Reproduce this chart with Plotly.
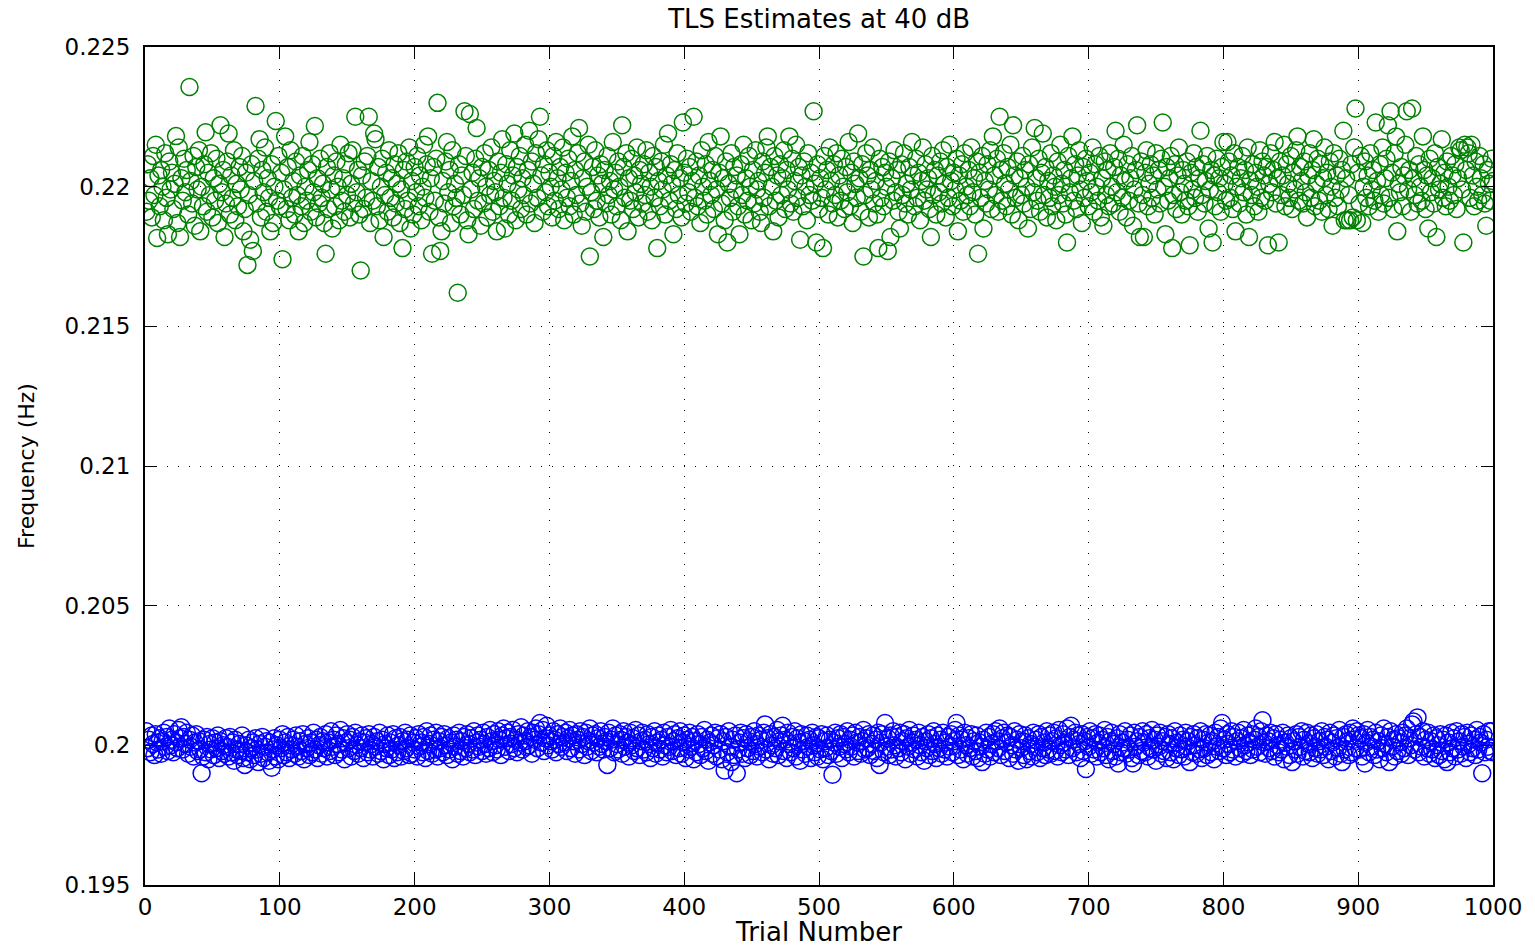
import plotly.graph_objects as go

# Trial numbers 1..1000
trial_number = list(range(1, 1001))

# Green series: TLS frequency estimates (units of 1e-5 Hz)
green_freq_1e5 = [
21910, 22080, 21950, 22030, 21890, 22110, 21970, 22150, 21816, 22040,
21930, 22060, 22000, 21880, 22120, 21960, 21830, 22090, 21990, 22050,
21920, 22010, 22181, 21870, 22140, 21820, 22030, 21950, 22100, 21980,
22060, 21900, 22357, 22020, 21940, 22110, 21860, 22070, 21990, 22130,
21840, 22000, 21930, 22080, 22195, 21910, 22050, 21970, 22120, 21890,
22030, 21950, 22100, 21870, 22010, 22220, 21980, 22060, 21820, 21940,
22090, 22190, 21900, 22040, 21960, 22130, 21880, 22010, 21930, 22070,
21990, 22110, 21840, 21920, 22050, 21720, 21970, 21810, 22080, 21770,
22020, 22289, 21940, 22100, 22170, 21890, 22060, 21980, 22140, 21910,
22030, 21960, 21840, 22080, 21870, 22000, 22235, 21950, 22110, 21930,
22050, 21740, 21990, 22180, 21920, 22070, 21880, 22130, 21960, 22020,
21900, 22090, 21970, 21840, 22040, 21930, 22110, 21870, 22000, 21950,
22060, 22160, 21910, 22080, 21980, 22217, 21890, 22030, 21940, 22100,
21960, 22010, 21870, 21760, 22070, 21920, 22120, 21990, 21850, 22040,
21930, 22090, 22000, 21880, 22150, 21950, 22030, 21910, 22080, 21970,
22120, 21890, 22010, 22130, 21940, 22250, 21980, 22060, 21900, 21700,
22040, 21920, 22090, 21960, 22110, 22250, 21870, 22020, 21950, 22190,
22170, 21930, 22070, 21880, 22000, 22100, 21820, 21970, 22050, 21910,
22130, 21960, 22030, 21890, 22080, 21940, 22010, 22120, 21870, 21990,
21780, 22060, 21920, 22090, 21950, 22140, 21850, 22020, 21900, 22070,
21980, 22110, 21930, 22040, 21880, 22000, 22150, 21960, 22080, 22180,
21910, 22030, 21760, 22070, 21950, 22100, 22300, 21890, 21770, 21840,
22020, 21940, 22090, 22160, 21980, 22060, 21870, 22130, 21930, 22010,
21960, 21620, 22080, 21900, 22040, 21970, 22270, 22110, 21880, 21830,
22260, 21990, 22050, 21920, 22100, 22210, 21950, 22030, 21860, 22070,
21940, 22120, 22000, 21890, 22060, 21970, 22140, 21910, 22020, 21980,
21840, 22090, 21930, 22050, 22170, 21960, 21850, 22080, 22010, 21900,
22130, 21950, 22040, 22190, 21880, 22070, 21990, 22110, 21920, 22030,
21970, 22150, 21900, 22060, 22200, 21940, 22090, 22010, 21870, 22120,
21960, 22170, 22250, 22040, 21910, 22080, 21980, 22130, 21930, 22050,
22000, 21890, 22110, 21950, 22160, 22030, 21920, 22070, 21990, 22140,
21880, 22050, 21960, 22100, 21930, 22020, 22180, 21900, 22060, 21970,
22120, 22210, 21940, 21860, 22030, 22090, 21910, 22000, 22150, 21750,
21980, 22070, 21920, 22130, 21950, 22040, 21890, 22080, 22010, 21820,
22060, 21940, 22110, 21970, 22020, 21900, 22160, 21990, 22050, 21930,
22090, 22000, 21880, 22220, 22070, 21960, 22120, 21840, 22030, 21950,
22100, 21920, 22040, 21980, 22140, 21890, 22060, 22010, 21940, 22080,
21970, 22130, 21910, 22050, 22000, 21880, 22110, 21960, 22070, 21780,
22020, 21930, 22090, 21990, 22150, 21900, 22040, 22190, 21950, 22080,
22010, 21830, 22060, 21920, 22120, 21970, 22030, 21890, 22230, 22050,
21940, 22100, 21980, 22070, 21910, 22020, 22250, 21960, 22090, 21930,
22040, 21870, 22130, 22000, 21950, 22080, 21900, 22160, 22020, 21970,
22060, 21920, 22110, 21990, 21830, 22050, 22180, 21940, 22030, 21880,
22090, 21800, 22010, 21960, 22120, 21910, 22070, 21990, 22040, 21930,
21830, 22080, 21970, 22150, 21900, 22030, 21950, 22110, 22000, 21880,
22060, 21940, 22130, 21990, 22020, 21910, 21870, 22090, 21960, 22050,
22140, 22180, 21930, 22070, 22000, 21840, 22110, 21950, 22040, 21890,
22080, 21970, 22030, 22130, 21920, 22060, 21990, 22180, 21940, 22100,
21910, 22020, 22150, 21960, 22070, 21810, 22040, 21930, 22090, 22000,
21880, 22120, 21970, 22050, 21950, 22270, 22010, 21800, 22080, 21920,
22030, 21960, 21780, 22110, 21990, 22060, 21900, 22140, 22020, 21940,
22080, 21970, 22120, 21890, 22040, 21950, 22100, 22000, 21920, 22070,
21980, 22160, 21930, 22050, 21870, 22090, 22010, 21960, 22190, 22030,
21910, 22080, 21750, 21970, 22120, 22040, 21890, 22060, 21990, 22140,
21940, 22020, 21900, 21780, 22100, 21960, 22070, 21930, 22050, 22000,
21770, 22090, 21820, 22030, 21950, 22130, 21980, 22060, 21910, 21850,
22080, 21970, 22120, 21940, 22010, 21900, 22070, 21990, 22160, 22040,
21930, 22100, 21960, 22050, 21880, 22020, 22140, 21950, 22080, 21990,
22030, 21920, 21820, 22110, 21970, 22060, 21900, 22040, 21980, 22090,
21940, 22130, 22010, 21890, 22070, 21960, 22150, 22020, 21930, 22050,
21990, 22100, 21840, 22040, 21950, 22080, 21910, 22120, 22000, 21970,
22060, 21930, 22140, 21980, 22030, 21900, 22090, 21760, 22050, 21960,
22110, 21850, 22020, 21940, 22080, 21990, 22130, 21920, 22180, 22040,
21970, 22100, 21910, 22250, 22060, 21950, 22120, 22010, 21930, 22070,
21990, 22150, 21900, 22220, 22040, 21960, 22090, 21880, 22030, 21970,
22110, 21940, 22060, 22000, 21850, 22080, 21920, 22140, 21980, 22210,
22030, 21950, 22100, 21910, 22050, 22190, 21970, 22070, 21890, 22020,
21960, 22120, 21930, 22040, 22000, 21880, 22090, 21970, 22150, 22010,
21940, 22060, 21900, 21800, 22110, 21980, 22030, 22180, 21950, 22080,
21920, 22040, 22130, 21990, 21870, 22070, 21960, 22100, 22020, 21930,
22050, 21980, 22140, 21910, 22080, 22000, 21950, 22110, 21890, 22030,
21860, 22090, 21970, 22060, 21930, 22120, 22000, 21940, 22070, 22200,
21980, 22100, 21910, 22040, 21960, 22150, 22020, 21890, 22080, 21950,
22030, 22110, 21860, 21990, 22060, 22220, 21940, 21820, 22090, 21970,
21820, 22050, 22130, 21930, 22010, 22080, 21960, 22040, 21900, 22120,
21990, 22060, 21940, 22100, 22230, 22000, 21830, 22070, 21950, 22030,
22110, 21780, 21970, 22080, 21920, 22040, 22140, 21980, 21900, 22060,
22010, 21950, 22090, 21930, 21790, 22050, 21990, 22120, 21960, 22070,
21910, 22030, 22200, 21970, 22080, 21940, 22020, 22110, 21850, 21990,
22060, 21800, 22040, 21930, 22100, 21980, 22030, 21910, 22070, 22160,
22010, 21950, 22160, 22090, 21960, 22040, 21920, 22120, 21840, 22000,
22070, 21940, 22030, 22110, 21980, 22060, 21900, 22140, 21820, 22020,
21970, 22080, 21930, 22050, 22000, 21910, 22130, 21960, 22090, 22040,
21950, 22070, 21790, 22010, 22120, 21980, 22060, 22160, 21940, 22030,
21800, 22090, 21970, 22040, 22150, 21930, 22080, 22010, 21960, 22110,
21920, 22050, 21990, 22130, 22180, 21950, 22070, 22020, 21940, 22090,
21980, 21890, 22040, 22120, 21960, 22060, 22170, 21930, 22010, 22100,
21950, 22080, 21910, 22030, 22140, 21970, 22050, 21920, 22090, 22000,
21860, 22120, 21960, 22040, 21930, 22100, 21990, 22060, 22200, 21880,
22030, 21880, 21970, 21880, 22080, 21890, 22140, 22280, 21880, 22050,
21940, 22110, 21870, 22000, 22090, 21960, 22040, 21930, 22120, 21990,
22060, 21950, 22230, 22020, 21910, 22080, 21970, 22140, 21940, 22030,
22100, 22220, 21960, 22270, 22050, 21920, 22120, 22180, 21840, 22010,
21980, 22070, 21930, 22040, 22150, 22270, 21990, 22060, 21910, 22280,
22030, 21970, 22110, 21940, 22080, 22000, 21950, 22180, 22060, 21920,
22040, 21850, 22100, 21980, 22030, 21940, 22120, 21820, 22070, 21990,
22010, 22170, 21960, 22050, 21930, 22090, 22000, 21950, 22110, 22040,
21970, 22080, 21920, 22030, 22140, 22130, 21990, 21800, 22150, 22060,
22140, 22120, 21960, 22150, 22040, 21930, 22090, 22000, 21950, 22110,
22030, 21970, 22080, 21940, 21860, 22060, 22010, 21950, 22100, 22020,
]

# Blue series: frequency estimates (units of 1e-5 Hz)
blue_freq_1e5 = [
20050, 19990, 20020, 19975, 20035, 20005, 19965, 20040, 20010, 19985,
20025, 19970, 20015, 20045, 19995, 20030, 19980, 20060, 20000, 20020,
19975, 20040, 20010, 19990, 20055, 20025, 20065, 19985, 20030, 20005,
20045, 19970, 20020, 19995, 20035, 19960, 20010, 20040, 19980, 20015,
19985, 19900, 19960, 20020, 19975, 20030, 19950, 20005, 19985, 20025,
19965, 20010, 19990, 20035, 19955, 20015, 19980, 20000, 19970, 20025,
19995, 19960, 20030, 19975, 20010, 19945, 20020, 19985, 19965, 20005,
19980, 20035, 19955, 19930, 20000, 19975, 20020, 19950, 19990, 20010,
19965, 20025, 19985, 19940, 20005, 19970, 20030, 19955, 19995, 20015,
19975, 19945, 20010, 19920, 19985, 20025, 19960, 20000, 19950, 20020,
19990, 20040, 19965, 20010, 19975, 20030, 19955, 20000, 19985, 20020,
19970, 20035, 19995, 19960, 20015, 19980, 20040, 19950, 20005, 19990,
20025, 19965, 20010, 19975, 20045, 19985, 20020, 19955, 20000, 20030,
19970, 20015, 19990, 20040, 19960, 20010, 19980, 20050, 19995, 20020,
19965, 20035, 20005, 19975, 20055, 19985, 20025, 19950, 20010, 20040,
19990, 20020, 19960, 20030, 19980, 20045, 20000, 19970, 20015, 19990,
20035, 19955, 20010, 20025, 19975, 20040, 19985, 20005, 19960, 20030,
19995, 20015, 19970, 20045, 19980, 20020, 19950, 20005, 19990, 20035,
19965, 20010, 19985, 20040, 19955, 20025, 19975, 20000, 20030, 19960,
20015, 19980, 20045, 19990, 20020, 19965, 20035, 19970, 20010, 19985,
20025, 19960, 20040, 19995, 20010, 19975, 20030, 19955, 20050, 19980,
20005, 20035, 19970, 20020, 19985, 20045, 19960, 20015, 19990, 20030,
19975, 20040, 20000, 19965, 20025, 19985, 20010, 19950, 20035, 19995,
20020, 19970, 20045, 19980, 20015, 19960, 20030, 19990, 20040, 20005,
19975, 20025, 19985, 20050, 19965, 20010, 20035, 19995, 20020, 19980,
20045, 20005, 19970, 20030, 19990, 20055, 20015, 19975, 20040, 20000,
19985, 20050, 20020, 19965, 20035, 20060, 19995, 20025, 20045, 19980,
20030, 20005, 20055, 19990, 20020, 19975, 20040, 20010, 20065, 19985,
20035, 20015, 19995, 20050, 20000, 20030, 19970, 20045, 20020, 20060,
19990, 20040, 20080, 20010, 20055, 19980, 20025, 20070, 20000, 20035,
20015, 19985, 20050, 20020, 19975, 20040, 20005, 20060, 19995, 20030,
20010, 20045, 19980, 20025, 20055, 19990, 20035, 20015, 19970, 20040,
20020, 19985, 20050, 20005, 20030, 19965, 20045, 19995, 20015, 20060,
19980, 20035, 20010, 20040, 19975, 20025, 19995, 20050, 20005, 19985,
20030, 20015, 19930, 20045, 19990, 20020, 20060, 19975, 20035, 20005,
19985, 20040, 20020, 19970, 20050, 19995, 20030, 20010, 19960, 20045,
20000, 20025, 19980, 20055, 19990, 20035, 19965, 20015, 20045, 19985,
20020, 19975, 20040, 20005, 19955, 20030, 19990, 20050, 19970, 20010,
20035, 19985, 20020, 19960, 20045, 20000, 19975, 20030, 19995, 20055,
19980, 20015, 20040, 19965, 20025, 19990, 20050, 19970, 20010, 20035,
19955, 20020, 19985, 20045, 19995, 20030, 19950, 20015, 19975, 20040,
20005, 19965, 20030, 19990, 20055, 19980, 20020, 19945, 20010, 20035,
19970, 20000, 20045, 19960, 20025, 19985, 20040, 19950, 20015, 19910,
20030, 19975, 20050, 19995, 19940, 20020, 19965, 20035, 19900, 19985,
20010, 20045, 19970, 20025, 19955, 20040, 19990, 20015, 19965, 20030,
19980, 20050, 20005, 19960, 20035, 19995, 20020, 19975, 20045, 20075,
19985, 20025, 19950, 20040, 20000, 19970, 20030, 19990, 20055, 19965,
20015, 20035, 20070, 19980, 20020, 19955, 20045, 20005, 19975, 20030,
19990, 20050, 19960, 20025, 20010, 19945, 20040, 19985, 20015, 19970,
20035, 19995, 20020, 19955, 20045, 20000, 19975, 20030, 19960, 20025,
19985, 20040, 19950, 20015, 19990, 20035, 19965, 20020, 19980, 19895,
20010, 20045, 19970, 20025, 19995, 20040, 19955, 20030, 20005, 19985,
20050, 19975, 20020, 19995, 20035, 19960, 20045, 20010, 19980, 20030,
19970, 20015, 20055, 19985, 20025, 19990, 20040, 19965, 20005, 20035,
19980, 20020, 19955, 20045, 19930, 20010, 20040, 19975, 20080, 19995,
20025, 19965, 20035, 19985, 20050, 20000, 19960, 20030, 19990, 20045,
19975, 20015, 20040, 19950, 20025, 19995, 20055, 19970, 20010, 20035,
19985, 20020, 19960, 20045, 20000, 19975, 20030, 19945, 20015, 19990,
20040, 19965, 20025, 19980, 20050, 20005, 19955, 20035, 19990, 20020,
19970, 20045, 19985, 20010, 19960, 20030, 19995, 20040, 19975, 20015,
20055, 20080, 19965, 20035, 19985, 20020, 19950, 20045, 20000, 19970,
20025, 19990, 20040, 19960, 20015, 19980, 20035, 19955, 20010, 19995,
19940, 20020, 19970, 20045, 19985, 20030, 19960, 20005, 20040, 19975,
20050, 20015, 19990, 20060, 19965, 20025, 20045, 19980, 20010, 20035,
19955, 20030, 20000, 19970, 20050, 19985, 20020, 19945, 20040, 19990,
20015, 19965, 20035, 19950, 20025, 19980, 20005, 19960, 20045, 19995,
20020, 19975, 20040, 19955, 20030, 19990, 20010, 19965, 20050, 19985,
20035, 19970, 20015, 20045, 19980, 20025, 19960, 20055, 20000, 19975,
20040, 20010, 19985, 20060, 19965, 20030, 20070, 19990, 20020, 20045,
19975, 20035, 20005, 19955, 20040, 19980, 20015, 19915, 20030, 19995,
20050, 19970, 20025, 19985, 20040, 19960, 20010, 20035, 19975, 20020,
19990, 20055, 19965, 20030, 19950, 20015, 20045, 19980, 20005, 19960,
20025, 19935, 20040, 19975, 20010, 19990, 20050, 19970, 20020, 19985,
20035, 19955, 19935, 20045, 19995, 20015, 19965, 20030, 19980, 20050,
20010, 19975, 20040, 19960, 20025, 19990, 20055, 19985, 20020, 19945,
20035, 19995, 20045, 19970, 20015, 19980, 20030, 19955, 20040, 20005,
19975, 20025, 19950, 20050, 19990, 20010, 19965, 20035, 19985, 20020,
19960, 20045, 19995, 20015, 19940, 20030, 19975, 20040, 20000, 19970,
20025, 19985, 20050, 19955, 20020, 19990, 20040, 19965, 20010, 20035,
19975, 20015, 19950, 20045, 19995, 20030, 19980, 20060, 20080, 19990,
20020, 19965, 20040, 20005, 19975, 20050, 19985, 20030, 19960, 20015,
20045, 19990, 20025, 19970, 20055, 20000, 19980, 20035, 20010, 19965,
20040, 19985, 20020, 20060, 19995, 20030, 19975, 20050, 20090, 20010,
19970, 20035, 20015, 19990, 20045, 19980, 20025, 19960, 20040, 20000,
19975, 20020, 19985, 20045, 19950, 20010, 19995, 20035, 19965, 20025,
19940, 20015, 19985, 20040, 19970, 20030, 19995, 20050, 19960, 20020,
19980, 20045, 20005, 19975, 20035, 19955, 20025, 19990, 20040, 19970,
20015, 19985, 20050, 19965, 20030, 19995, 20020, 19950, 20045, 19980,
20010, 20035, 19960, 20025, 19990, 20055, 19970, 19940, 20030, 19985,
20040, 20015, 19965, 20045, 19975, 20060, 20020, 19990, 20050, 20035,
19985, 20025, 19960, 20040, 19935, 20010, 20055, 19975, 20030, 19995,
20020, 19965, 20045, 19985, 20015, 19950, 20035, 19990, 20060, 20005,
19975, 20030, 19940, 20050, 19995, 20020, 19960, 20040, 19980, 20025,
20010, 19970, 20045, 19990, 20035, 20060, 19965, 20025, 20000, 20075,
20085, 19985, 20040, 20100, 19975, 20030, 19995, 20050, 19960, 20020,
19990, 20045, 19970, 20015, 19985, 20035, 19955, 20025, 20000, 19965,
20040, 19980, 20020, 19950, 20035, 19940, 20010, 19975, 20045, 19990,
20025, 19960, 20050, 19985, 20015, 19970, 20040, 19995, 20030, 19955,
20045, 20005, 19975, 20035, 19990, 20020, 19965, 20055, 19985, 20030,
20010, 19900, 20040, 19975, 20020, 19995, 20050, 19980, 20050, 19975,
]

x_tick_values = [0, 100, 200, 300, 400, 500, 600, 700, 800, 900, 1000]
y_tick_values = [0.195, 0.2, 0.205, 0.21, 0.215, 0.22, 0.225]
y_tick_labels = ["0.195", "0.2", "0.205", "0.21", "0.215", "0.22", "0.225"]

green_freq = [v / 1e5 for v in green_freq_1e5]
blue_freq = [v / 1e5 for v in blue_freq_1e5]

FONT = "DejaVu Sans, Liberation Sans, Arial, sans-serif"

fig = go.Figure()
fig.add_trace(go.Scatter(
    x=trial_number, y=green_freq, mode="markers", name="green",
    marker=dict(symbol="circle-open", size=17, color="rgb(0,128,0)",
                line=dict(width=1.5, color="rgb(0,128,0)")),
))
fig.add_trace(go.Scatter(
    x=trial_number, y=blue_freq, mode="markers", name="blue",
    marker=dict(symbol="circle-open", size=17, color="rgb(0,0,255)",
                line=dict(width=1.5, color="rgb(0,0,255)")),
))

axis_common = dict(
    showline=True, linecolor="black", linewidth=2, mirror="allticks",
    ticks="inside", ticklen=12, tickwidth=1, tickcolor="black",
    showgrid=True, gridcolor="black", gridwidth=1, griddash="1px,10px",
    zeroline=False, automargin=False,
    tickfont=dict(family=FONT, size=23, color="black"),
)

fig.update_layout(
    width=1535, height=947,
    margin=dict(l=145, r=42, t=47, b=62),
    paper_bgcolor="white", plot_bgcolor="white",
    showlegend=False,
    title=dict(text="TLS Estimates at 40 dB", x=0.5336, xanchor="center",
               y=1 - 19 / 947, yanchor="middle", yref="container",
               font=dict(family=FONT, size=26, color="black")),
    xaxis=dict(range=[0, 1000], tickvals=x_tick_values,
               title=dict(text="Trial Number", standoff=1,
                          font=dict(family=FONT, size=26, color="black")),
               **axis_common),
    yaxis=dict(range=[0.195, 0.225], tickvals=y_tick_values, ticktext=y_tick_labels,
               ticklabelstandoff=8,
               title=dict(text="Frequency (Hz)", standoff=24,
                          font=dict(family=FONT, size=22, color="black")),
               **axis_common),
)

fig.write_html("out.html")
